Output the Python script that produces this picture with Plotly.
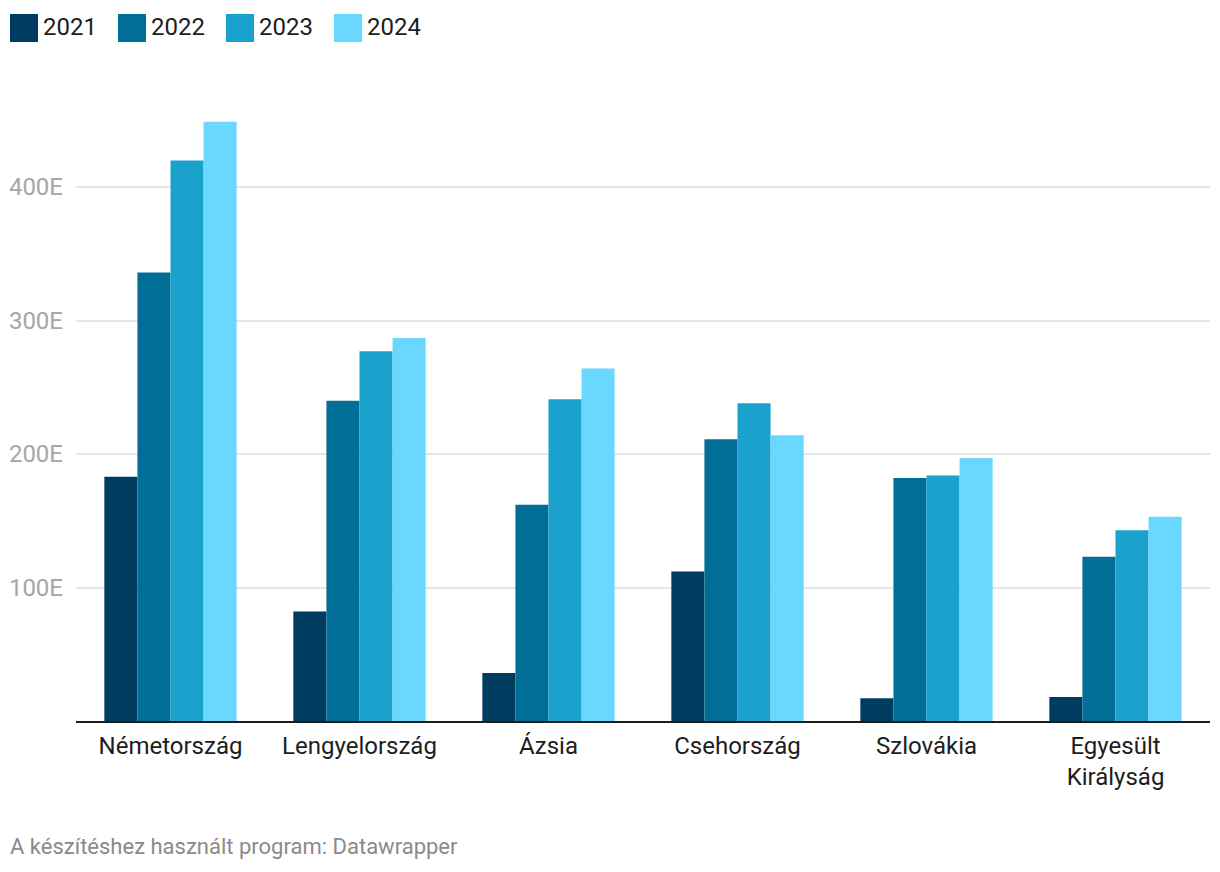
import plotly.graph_objects as go

categories = ["Németország", "Lengyelország", "Ázsia", "Csehország", "Szlovákia", "Egyesült<br>Királyság"]
years = ["2021", "2022", "2023", "2024"]
v2021 = [183, 82, 36, 112, 17, 18]
v2022 = [336, 240, 162, 211, 182, 123]
v2023 = [420, 277, 241, 238, 184, 143]
v2024 = [449, 287, 264, 214, 197, 153]
series = [v2021, v2022, v2023, v2024]
colors = ["#003c60", "#006e97", "#1aa1cc", "#6ad8fe"]
tick_vals = [100, 200, 300, 400]
tick_text = ["100E", "200E", "300E", "400E"]
footer = "A készítéshez használt program: Datawrapper"

W, H = 1220, 872
L, R, T, B = 76, 10, 107, 151
PW, PH = W - L - R, H - T - B

fig = go.Figure()
for name, vals, col in zip(years, series, colors):
    fig.add_trace(go.Bar(x=categories, y=vals, name=name, marker_color=col,
                         marker_line_width=0, showlegend=False,
                         hovertemplate="%{x}: %{y}E<extra>" + name + "</extra>"))

def px_x(p):
    return (p - L) / PW

def px_y(p):
    return 1 - (p - T) / PH

shapes = []
annotations = []
for i, (name, col) in enumerate(zip(years, colors)):
    x0 = 10 + i * 108
    shapes.append(dict(type="rect", xref="paper", yref="paper",
                       x0=px_x(x0), x1=px_x(x0 + 28), y0=px_y(42), y1=px_y(14),
                       fillcolor=col, line_width=0))
    annotations.append(dict(text=name, xref="paper", yref="paper",
                            x=px_x(x0 + 31), y=px_y(27), xanchor="left", yanchor="middle",
                            showarrow=False, font=dict(size=24, color="#1d1d1d")))

annotations.append(dict(text=footer, xref="paper", yref="paper",
                        x=px_x(8), y=px_y(846), xanchor="left", yanchor="middle",
                        showarrow=False, font=dict(size=22, color="#8a8a8a")))

fig.update_layout(
    width=W, height=H,
    margin=dict(l=L, r=R, t=T, b=B, pad=0),
    paper_bgcolor="white", plot_bgcolor="white",
    font=dict(family="Roboto", color="#1d1d1d"),
    barmode="group", bargap=0.30, bargroupgap=0,
    shapes=shapes, annotations=annotations,
    xaxis=dict(showgrid=False, showline=True, linecolor="#1d1d1d", linewidth=2,
               ticks="", tickfont=dict(size=24, color="#1d1d1d"), ticklabelstandoff=2,
               fixedrange=True),
    yaxis=dict(range=[0, 460], tickvals=tick_vals, ticktext=tick_text,
               showgrid=True, gridcolor="#e6e6e6", gridwidth=2, zeroline=False,
               showline=False, ticks="", tickfont=dict(size=24, color="#a6a6a6"),
               ticklabelstandoff=12, fixedrange=True),
)

fig.write_html("out.html")
